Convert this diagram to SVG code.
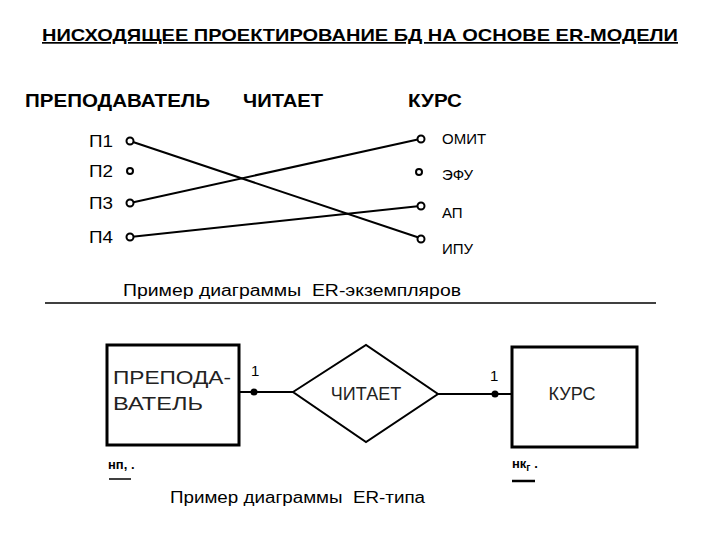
<svg xmlns="http://www.w3.org/2000/svg" width="720" height="540" viewBox="0 0 720 540">
<style>
.t{font-family:"Liberation Sans",Arial,sans-serif;fill:#000}
.b{font-weight:bold}
.ln{stroke:#000;stroke-width:2;fill:none}
.c{fill:#fff;stroke:#000;stroke-width:2}
.box{fill:#fff;stroke:#000;stroke-width:3}
.lt{font-family:"Liberation Sans",Arial,sans-serif;fill:#222;font-size:18px}
.pl{font-family:"Liberation Sans",Arial,sans-serif;fill:#000;font-size:16px}
</style>
<rect width="720" height="540" fill="#fff"/>
<text class="t b" x="42" y="41" font-size="17" textLength="636" lengthAdjust="spacingAndGlyphs" text-decoration="underline">НИСХОДЯЩЕЕ ПРОЕКТИРОВАНИЕ БД НА ОСНОВЕ ER-МОДЕЛИ</text>
<text class="t b" x="25" y="107" font-size="18" textLength="185" lengthAdjust="spacingAndGlyphs">ПРЕПОДАВАТЕЛЬ</text>
<text class="t b" x="243" y="107" font-size="18" textLength="80" lengthAdjust="spacingAndGlyphs">ЧИТАЕТ</text>
<text class="t b" x="408" y="107" font-size="18" textLength="54" lengthAdjust="spacingAndGlyphs">КУРС</text>
<g id="connectors">
<line class="ln" x1="130" y1="141" x2="420" y2="238"/>
<line class="ln" x1="130" y1="203" x2="420" y2="139"/>
<line class="ln" x1="130" y1="237" x2="420" y2="206"/>
<line class="ln" x1="239" y1="392" x2="293" y2="392"/>
<line class="ln" x1="438" y1="394" x2="512" y2="394"/>
</g>
<g id="p1"><text class="pl" x="89" y="147" textLength="24" lengthAdjust="spacingAndGlyphs">П1</text><circle class="c" cx="130" cy="141" r="3.5"/></g>
<g id="p2"><text class="pl" x="89" y="177" textLength="24" lengthAdjust="spacingAndGlyphs">П2</text><circle class="c" cx="130" cy="171" r="3"/></g>
<g id="p3"><text class="pl" x="89" y="209" textLength="24" lengthAdjust="spacingAndGlyphs">П3</text><circle class="c" cx="130" cy="203" r="3.5"/></g>
<g id="p4"><text class="pl" x="89" y="243" textLength="24" lengthAdjust="spacingAndGlyphs">П4</text><circle class="c" cx="130" cy="237" r="3.5"/></g>
<g id="omit"><circle class="c" cx="421" cy="139" r="3.5"/><text class="t" x="442" y="144" font-size="15">ОМИТ</text></g>
<g id="efu"><circle class="c" cx="419" cy="172" r="3"/><text class="t" x="442" y="180" font-size="15">ЭФУ</text></g>
<g id="ap"><circle class="c" cx="421" cy="206" r="3.5"/><text class="t" x="442" y="218" font-size="15">АП</text></g>
<g id="ipu"><circle class="c" cx="421" cy="239" r="3.5"/><text class="t" x="442" y="254" font-size="15">ИПУ</text></g>
<text class="t" x="123" y="296" font-size="16" textLength="338" lengthAdjust="spacingAndGlyphs" xml:space="preserve">Пример диаграммы  ER-экземпляров</text>
<line x1="45" y1="303" x2="656" y2="303" stroke="#000" stroke-width="1.5"/>
<g id="teacher">
<rect class="box" x="107" y="345" width="132" height="100"/>
<text class="lt" x="113" y="384" textLength="118" lengthAdjust="spacingAndGlyphs">ПРЕПОДА-</text>
<text class="lt" x="113" y="410" textLength="90" lengthAdjust="spacingAndGlyphs">ВАТЕЛЬ</text>
<text class="t" x="251" y="376" font-size="15">1</text>
<circle cx="254" cy="392" r="3.5" fill="#000"/>
<text class="t b" x="108" y="469" font-size="13">нп, .</text>
<line x1="109" y1="479" x2="131" y2="479" stroke="#000" stroke-width="1.5"/>
</g>
<g id="reads">
<polygon points="293,392 366,345 438,394 366,442" fill="#fff" stroke="#000" stroke-width="2"/>
<text class="lt" x="366" y="400" text-anchor="middle" font-size="17">ЧИТАЕТ</text>
</g>
<g id="course">
<rect class="box" x="512" y="347" width="125" height="100"/>
<text class="lt" x="572" y="400" text-anchor="middle">КУРС</text>
<text class="t" x="490" y="381" font-size="15">1</text>
<circle cx="495" cy="394" r="3.5" fill="#000"/>
<text class="t b" x="512" y="468" font-size="13">нк<tspan font-size="10" dy="3">г</tspan><tspan dy="-3"> .</tspan></text>
<line x1="512" y1="481" x2="535" y2="481" stroke="#000" stroke-width="2.5"/>
</g>
<text class="t" x="170" y="503" font-size="16" textLength="255" lengthAdjust="spacingAndGlyphs" xml:space="preserve">Пример диаграммы  ER-типа</text>
</svg>
